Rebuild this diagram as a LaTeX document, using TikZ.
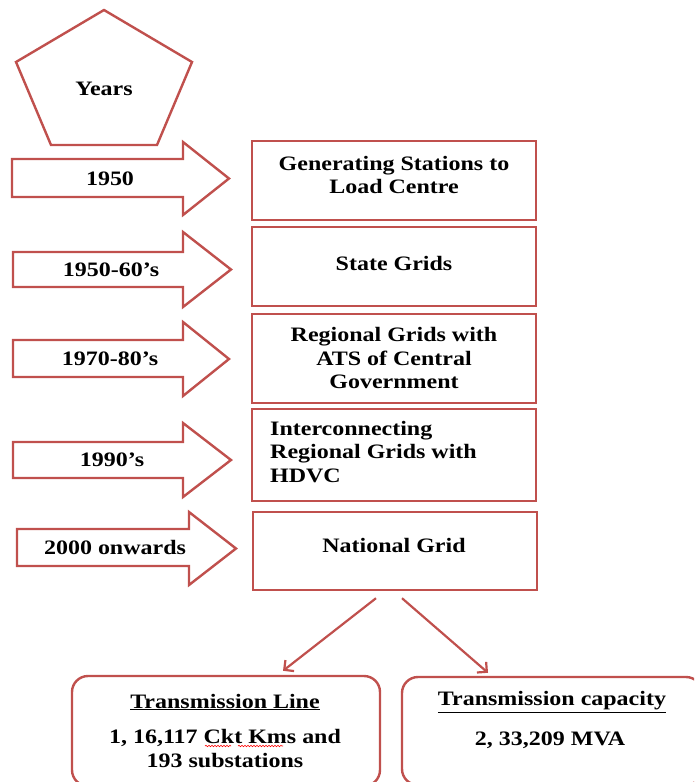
\documentclass[tikz,border=0pt]{standalone}
\usepackage{fontspec}
\setmainfont[FakeStretch=1.17]{Liberation Serif}
\usetikzlibrary{arrows.meta,decorations.pathmorphing}
\definecolor{accred}{RGB}{192,80,77}
\newcommand{\blockarrow}[7]{\draw[frame] (#1,#3) -- (#2,#3) -- (#2,#5) -- (#7,{(#5+#6)/2}) -- (#2,#6) -- (#2,#4) -- (#1,#4) -- cycle;}
\begin{document}
\begin{tikzpicture}[x=1pt,y=-1pt,
  every node/.style={font=\bfseries\fontsize{20.5}{23.5}\selectfont, text=black},
  frame/.style={draw=accred, line width=2.4pt, fill=white},
  boxnode/.style={frame, minimum width=284pt, inner sep=0pt},
  lbl/.style={align=center, inner sep=0pt},
  conn/.style={draw=accred, line width=2.2pt, -{Straight Barb[length=7pt,width=14pt]}},
  squig/.style={draw=red, line width=0.6pt, decorate, decoration={snake, amplitude=0.7pt, segment length=3pt}}]
\useasboundingbox (0,0) rectangle (694,782);

% pentagon
\draw[frame] (104,10) -- (192,62) -- (157,145) -- (51,145) -- (16,62) -- cycle;
\node (years) at (104,89) {Years};

% block arrows
\blockarrow{12}{183}{159}{197}{142}{215}{229}
\blockarrow{13}{183}{252}{287}{232}{307}{231}
\blockarrow{13}{183}{340}{377}{322}{396}{229}
\blockarrow{13}{183}{442}{478}{423}{497}{231}
\blockarrow{17}{189}{529}{566}{512}{585}{236}
\node[lbl] (y1) at (110,179) {1950};
\node[lbl] (y2) at (111,270) {1950-60’s};
\node[lbl] (y3) at (110,359) {1970-80’s};
\node[lbl] (y4) at (112,460) {1990’s};
\node[lbl] (y5) at (115,547) {2000 onwards};

% boxes
\node[boxnode, minimum height=79pt] (b1) at (394,180.5) {};
\node[boxnode, minimum height=79pt] (b2) at (394,266.5) {};
\node[boxnode, minimum height=89pt] (b3) at (394,358.5) {};
\node[boxnode, minimum height=92pt] (b4) at (394,455) {};
\node[boxnode, minimum height=78pt] (b5) at (395,551) {};
\node[lbl] (t1) at (394,175) {Generating Stations to\\Load Centre};
\node[lbl] (t2) at (394,263) {State Grids};
\node[lbl] (t3) at (394,358) {Regional Grids with\\ATS of Central\\Government};
\node[lbl, align=left, anchor=west] (t4) at (270,452) {Interconnecting\\Regional Grids with\\HDVC};
\node[lbl] (t5) at (394,545) {National Grid};

% bottom boxes
\begin{scope}
\clip (0,0) rectangle (694,782);
\node[frame, rounded corners=16pt, minimum width=308pt, minimum height=110pt, inner sep=0pt] (tl) at (226,731) {};
\node[frame, rounded corners=16pt, minimum width=300pt, minimum height=108pt, inner sep=0pt] (tr) at (552,731) {};
\end{scope}
\node[lbl] (tlh) at (225,702) {\underline{Transmission Line}};
\node[lbl] (tlb) at (225,748.5) {1, 16,117 Ckt Kms and\\193 substations};
\node[lbl] (trh) at (552,702) {\underline{Transmission capacity}};
\node[lbl] (trb) at (550,740) {2, 33,209 MVA};
\draw[squig] (205,746) -- (231,746);
\draw[squig] (238,746) -- (283,746);

% connectors
\draw[conn] ([xshift=-19pt,yshift=-7pt]b5.south) -- ([xshift=57pt,yshift=4pt]tl.north);
\draw[conn] ([xshift=7pt,yshift=-7pt]b5.south) -- ([xshift=-64pt,yshift=3pt]tr.north);
\end{tikzpicture}
\end{document}
